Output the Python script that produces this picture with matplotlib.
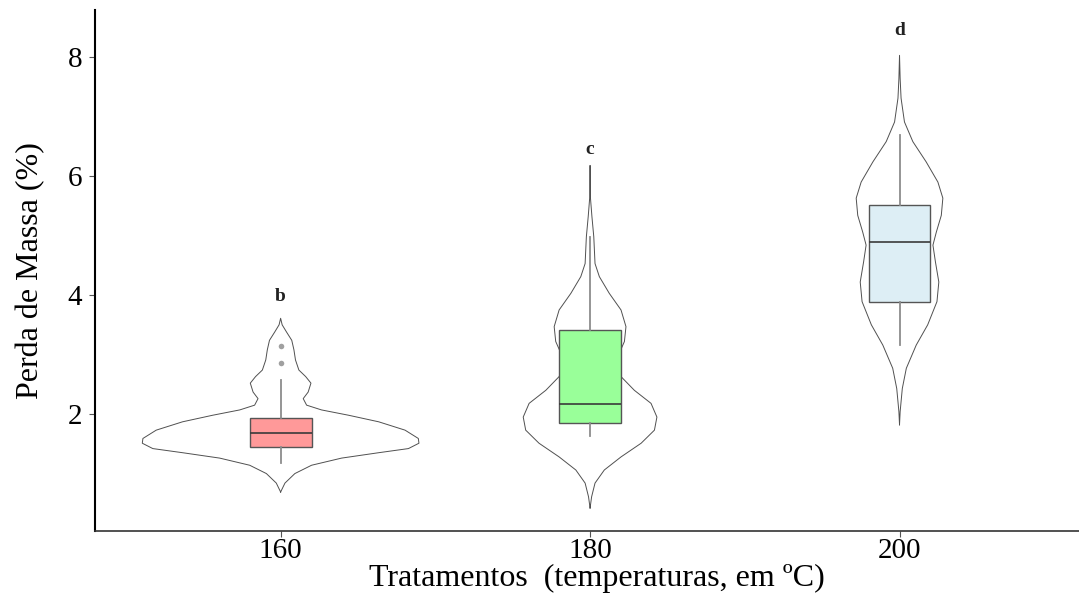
import numpy as np
import matplotlib
matplotlib.use("Agg")
from matplotlib import pyplot as plt

# groups
groups = ["160", "180", "200"]
letters = ["b", "c", "d"]
letter_y = [3.97, 6.45, 8.45]

# violin outlines: height levels and half widths (x units)
v160_y = [0.69, 0.84, 1.00, 1.14, 1.26, 1.35, 1.42, 1.51, 1.59, 1.73, 1.87, 1.98, 2.07, 2.15, 2.26,
          2.37, 2.52, 2.63, 2.74, 2.91, 3.08, 3.24, 3.38, 3.50, 3.61]
v160_w = [0.0, 0.014, 0.046, 0.100, 0.197, 0.316, 0.413, 0.447, 0.445, 0.402, 0.317, 0.220, 0.132, 0.084, 0.073,
          0.089, 0.098, 0.081, 0.059, 0.048, 0.043, 0.036, 0.019, 0.005, 0.0]
v180_y = [0.42, 0.61, 0.84, 1.06, 1.28, 1.51, 1.73, 1.95, 2.18, 2.40, 2.63, 2.82, 2.96, 3.22, 3.47,
          3.75, 4.03, 4.31, 4.53, 4.98, 5.32, 5.65, 6.18]
v180_w = [0.0, 0.005, 0.016, 0.046, 0.100, 0.165, 0.208, 0.216, 0.197, 0.143, 0.100, 0.084, 0.089, 0.111, 0.116,
          0.100, 0.062, 0.030, 0.016, 0.012, 0.006, 0.001, 0.0]
v200_y = [1.82, 2.04, 2.43, 2.77, 3.16, 3.50, 3.89, 4.22, 4.56, 4.84, 5.06, 5.34, 5.63, 5.90, 6.24,
          6.58, 6.91, 7.31, 7.64, 8.03]
v200_w = [0.0, 0.002, 0.009, 0.022, 0.054, 0.091, 0.121, 0.127, 0.116, 0.108, 0.119, 0.135, 0.140, 0.124, 0.086,
          0.043, 0.016, 0.005, 0.002, 0.0]

# boxplot stats
whislo = [1.18, 1.63, 3.16]
q1 = [1.45, 1.85, 3.88]
med = [1.68, 2.17, 4.89]
q3 = [1.93, 3.41, 5.51]
whishi = [2.57, 4.97, 6.69]
fliers = [[2.86, 3.14], [], []]
box_colors = ["#ff9999", "#99ff99", "#ddeef5"]

plt.rcParams["font.family"] = ["Liberation Serif", "DejaVu Serif"]

fig = plt.figure(figsize=(10.79, 5.96), dpi=100)
ax = fig.add_axes([0.088, 0.109, 0.912, 0.874])

pos = [1, 2, 3]
for p, vy, vw in zip(pos, [v160_y, v180_y, v200_y], [v160_w, v180_w, v200_w]):
    vy = np.array(vy)
    vw = np.array(vw)
    xs = np.concatenate([p - vw, (p + vw)[::-1]])
    ys = np.concatenate([vy, vy[::-1]])
    ax.plot(xs, ys, color="#505050", lw=0.7, solid_joinstyle="round")

stats = []
for i in range(3):
    stats.append(dict(whislo=whislo[i], q1=q1[i], med=med[i], q3=q3[i],
                      whishi=whishi[i], fliers=fliers[i]))
bp = ax.bxp(stats, positions=pos, widths=0.2, patch_artist=True, showcaps=False,
            boxprops=dict(edgecolor="#555555", linewidth=1.0),
            whiskerprops=dict(color="#8c8c8c", linewidth=1.3),
            medianprops=dict(color="#3a3a3a", linewidth=1.2),
            flierprops=dict(marker="o", markersize=4, markerfacecolor="#a0a0a0",
                            markeredgecolor="none"))
for b, c in zip(bp["boxes"], box_colors):
    b.set_facecolor(c)

for p, l, ly in zip(pos, letters, letter_y):
    ax.text(p, ly, l, ha="center", va="center", fontsize=14, fontweight="bold", color="#222222")

ax.set_xlim(0.4, 3.58)
ax.set_ylim(0.034, 8.79)
ax.set_xticks(pos)
ax.set_xticklabels(groups)
ax.set_yticks([2, 4, 6, 8])
ax.tick_params(length=4, color="#555555", width=0.8)
ax.tick_params(axis="x", labelsize=21, pad=1)
ax.tick_params(axis="y", labelsize=21, pad=5)
ax.set_xlabel("Tratamentos  (temperaturas, em ºC)", fontsize=23, labelpad=0)
ax.xaxis.label.set_x(0.51)
ax.set_ylabel("Perda de Massa (%)", fontsize=23, labelpad=16)

for s in ["top", "right"]:
    ax.spines[s].set_visible(False)
ax.spines["left"].set_linewidth(1.5)
ax.spines["left"].set_color("black")
ax.spines["bottom"].set_linewidth(1.2)
ax.spines["bottom"].set_color("#333333")

fig.savefig("out.png", dpi=100)
